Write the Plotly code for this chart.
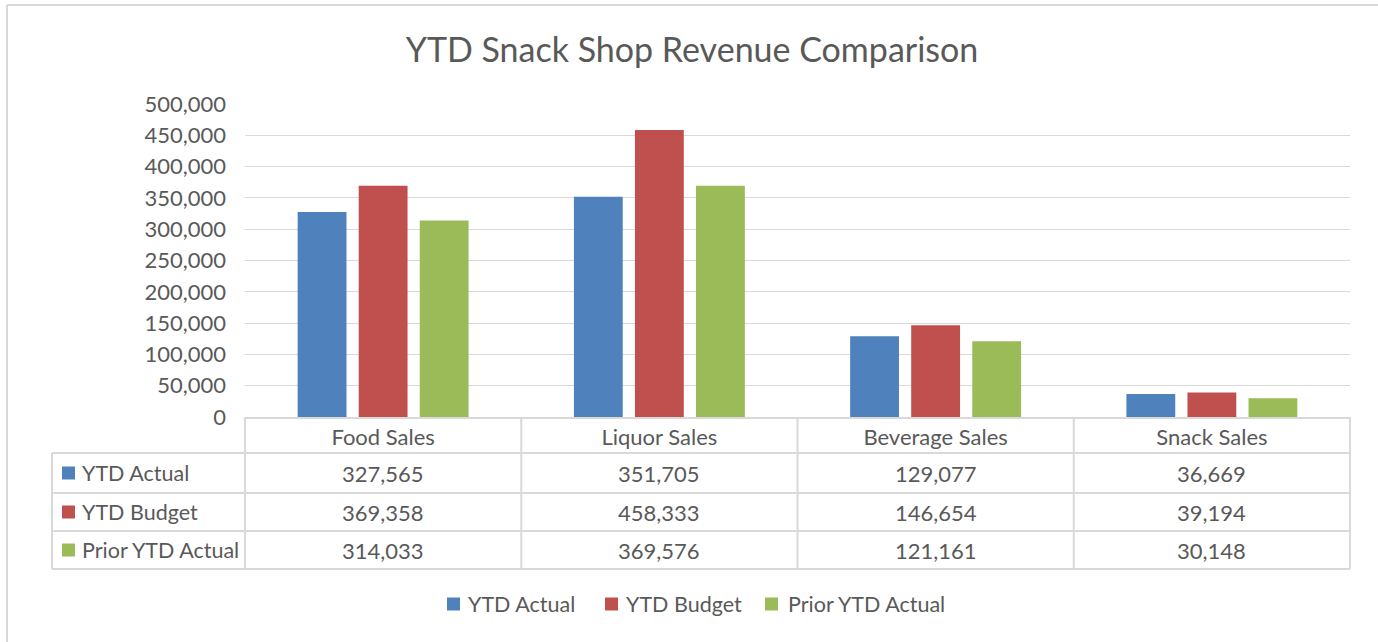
import plotly.graph_objects as go

# ---- data ----
categories = ["Food Sales", "Liquor Sales", "Beverage Sales", "Snack Sales"]
series_names = ["YTD Actual", "YTD Budget", "Prior YTD Actual"]
ytd_actual = [327565, 351705, 129077, 36669]
ytd_budget = [369358, 458333, 146654, 39194]
prior_ytd_actual = [314033, 369576, 121161, 30148]
series_values = [ytd_actual, ytd_budget, prior_ytd_actual]
colors = ["#4F81BD", "#C0504D", "#9BBB59"]

W, H = 1378, 642
L, R, T, B = 245, 1350, 104, 417  # plot area pixel box
FONT = "Lato"
TXT = "#595959"
GRID = "#D9D9D9"
FS = 22


def px(x):
    return (x - L) / (R - L)


def py(y):
    return (B - y) / (B - T)


fig = go.Figure()
for name, vals, col in zip(series_names, series_values, colors):
    fig.add_trace(go.Bar(x=categories, y=vals, name=name, marker=dict(color=col, line=dict(width=0)),
                         showlegend=False))

shapes = []
annotations = []

# outer chart border (only left/top visible in the frame)
shapes.append(dict(type="line", xref="paper", yref="paper", x0=px(7), x1=px(W + 5), y0=py(5), y1=py(5),
                   line=dict(color=GRID, width=2), layer="below"))
shapes.append(dict(type="line", xref="paper", yref="paper", x0=px(7), x1=px(7), y0=py(5), y1=py(H + 5),
                   line=dict(color=GRID, width=2), layer="below"))

# data table grid
row_lines = [453, 493, 531, 569]
for yy in row_lines:
    shapes.append(dict(type="line", xref="paper", yref="paper", x0=px(52), x1=1, y0=py(yy), y1=py(yy),
                       line=dict(color=GRID, width=2)))
for i in range(len(categories) + 1):
    shapes.append(dict(type="line", xref="paper", yref="paper", x0=i / len(categories), x1=i / len(categories),
                       y0=py(417), y1=py(569), line=dict(color=GRID, width=2)))
shapes.append(dict(type="line", xref="paper", yref="paper", x0=px(52), x1=px(52), y0=py(453), y1=py(569),
                   line=dict(color=GRID, width=2)))

# table rows
row_centers = [473, 512, 550]
for name, vals, col, yc in zip(series_names, series_values, colors, row_centers):
    shapes.append(dict(type="rect", xref="paper", yref="paper", x0=px(62), x1=px(75),
                       y0=py(yc + 6.5), y1=py(yc - 6.5), fillcolor=col, line=dict(width=0)))
    annotations.append(dict(xref="paper", yref="paper", x=px(80), y=py(yc), text=name, showarrow=False,
                            xanchor="left", yanchor="middle", font=dict(family=FONT, size=21.5, color=TXT)))
    for i, v in enumerate(vals):
        annotations.append(dict(xref="paper", yref="paper", x=(i + 0.5) / len(categories), y=py(yc),
                                text=f"{v:,}", showarrow=False, xanchor="center", yanchor="middle",
                                font=dict(family=FONT, size=FS, color=TXT)))

# legend (bottom)
legend_sq = [447, 605, 765]
legend_tx = [466, 624, 786]
for name, col, xs, xt in zip(series_names, colors, legend_sq, legend_tx):
    shapes.append(dict(type="rect", xref="paper", yref="paper", x0=px(xs), x1=px(xs + 13),
                       y0=py(604 + 6.5), y1=py(604 - 6.5), fillcolor=col, line=dict(width=0)))
    annotations.append(dict(xref="paper", yref="paper", x=px(xt), y=py(604), text=name, showarrow=False,
                            xanchor="left", yanchor="middle", font=dict(family=FONT, size=21.5, color=TXT)))

fig.update_layout(
    width=W, height=H,
    margin=dict(l=L, r=W - R, t=T, b=H - B, pad=0),
    paper_bgcolor="white", plot_bgcolor="white",
    barmode="group", bargap=0.337, bargroupgap=0.2,
    title=dict(text="YTD Snack Shop Revenue Comparison", x=692 / W, xanchor="center",
               y=(H - 50) / H, yanchor="middle", yref="container",
               font=dict(family=FONT, size=34, color=TXT)),
    font=dict(family=FONT, color=TXT, size=FS),
    showlegend=False,
    shapes=shapes,
    annotations=annotations,
)
fig.update_xaxes(showline=True, linecolor=GRID, linewidth=2, showgrid=False, ticks="",
                 tickfont=dict(family=FONT, size=FS, color=TXT), ticklabelstandoff=0)
fig.update_yaxes(range=[0, 500000], dtick=50000, tickformat=",", showgrid=True, gridcolor=GRID, gridwidth=1.3,
                 zeroline=False, showline=False, ticks="", ticklabelstandoff=18,
                 tickfont=dict(family=FONT, size=FS, color=TXT))

fig.write_html("out.html", config={"displayModeBar": False},
               post_script="document.body.style.margin='0px';document.body.style.overflow='hidden';")
